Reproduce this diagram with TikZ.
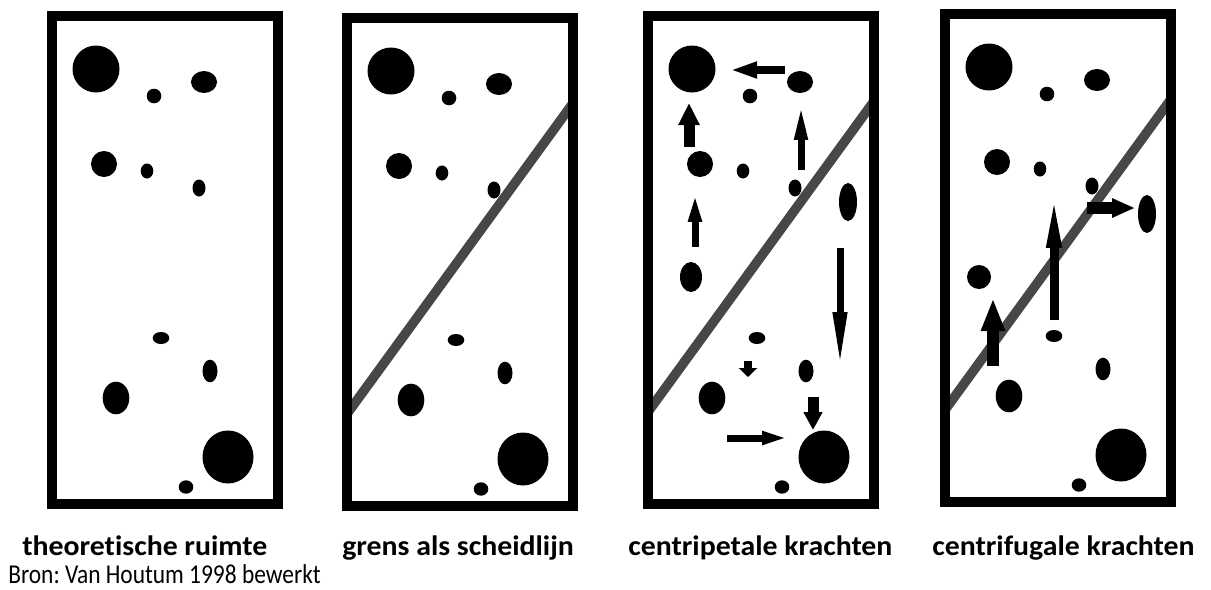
\documentclass[tikz,border=0pt]{standalone}
\usepackage{fontspec}
\setmainfont{Carlito}
\newfontfamily\labelfont[FakeStretch=1.06, Ligatures=NoCommon]{Carlito}
\newfontfamily\bronfont[FakeStretch=0.86, Ligatures=NoCommon]{Carlito}
\frenchspacing
\usetikzlibrary{arrows.meta}
\begin{document}
\begin{tikzpicture}[x=0.02cm, y=-0.02cm, >=latex,
  rand/.style={line width=0.2cm},
  grens/.style={line width=0.19cm, draw=black!72},
  pijl/.style n args={3}{line width=#1, -{Triangle[length=#2, width=#3]}},
  lbl/.style={font=\labelfont\fontsize{16}{18}\selectfont\bfseries, inner sep=0pt, anchor=base west}]
\useasboundingbox (0,0) rectangle (1211,589);
% scheidslijn in de laatste drie ruimtes
\foreach \bx/\by in {342/13, 643/11, 940/9}
  \draw[grens, shift={(\bx,\by)}] (5,400.9) -- (231,90.1);
% de kernen, in elke ruimte gelijk
\foreach \bx/\by in {47/11, 342/13, 643/11, 940/9} {
  \begin{scope}[shift={(\bx,\by)}]
  \fill (49,58) circle [x radius=23.5, y radius=23.5];
  \fill (107,85) circle [x radius=7.3, y radius=7.3];
  \fill (157,71) circle [x radius=13, y radius=11];
  \fill (57,153) circle [x radius=13, y radius=13];
  \fill (100,160) circle [x radius=6.3, y radius=7.5];
  \fill (152,177) circle [x radius=6.5, y radius=8.5];
  \fill (114,327) circle [x radius=8.3, y radius=6];
  \fill (163,360) circle [x radius=7.5, y radius=11.3];
  \fill (69,387) circle [x radius=13.3, y radius=16.3];
  \fill (181,446) circle [x radius=25.5, y radius=26.5];
  \fill (139,476) circle [x radius=7.3, y radius=6.7];
  \draw[rand] (5,5) rectangle (231,493);
  \end{scope}
}
% extra kernen
\fill (848,202) circle [x radius=9, y radius=19];
\fill (691,277) circle [x radius=11, y radius=15];
\fill (1147,214) circle [x radius=9, y radius=19];
\fill (979,277) circle [x radius=12, y radius=12];
% centripetale krachten
\draw[pijl={0.16cm}{0.54cm}{0.3cm}] (785,70) -- (730,70);
\draw[pijl={0.22cm}{0.44cm}{0.4cm}] (689,147) -- (689,103);
\draw[pijl={0.14cm}{0.74cm}{0.24cm}] (801,170) -- (801,103);
\draw[pijl={0.14cm}{0.6cm}{0.24cm}] (695,247) -- (695,192);
\draw[pijl={0.14cm}{1.12cm}{0.26cm}] (840,248) -- (840,368);
\draw[pijl={0.16cm}{0.18cm}{0.36cm}] (748,361) -- (748,377);
\draw[pijl={0.22cm}{0.36cm}{0.36cm}] (813,397) -- (813,430);
\draw[pijl={0.14cm}{0.54cm}{0.24cm}] (727,438) -- (789,438);
% centrifugale krachten
\draw[pijl={0.24cm}{0.66cm}{0.44cm}] (993,366) -- (993,298);
\draw[pijl={0.18cm}{1.26cm}{0.26cm}] (1054,320) -- (1054,185);
\draw[pijl={0.24cm}{0.46cm}{0.36cm}] (1087,208) -- (1135,208);
% onderschriften
\node[lbl] (theorie) at (22,555) {theoretische ruimte};
\node[lbl] (scheid) at (342,555) {grens als scheidlijn};
\node[lbl] (petaal) at (628,555) {centripetale krachten};
\node[lbl] (fugaal) at (932,555) {centrifugale krachten};
\node[font=\bronfont\fontsize{15.5}{17}\selectfont, inner sep=0pt, anchor=base west] (bron) at (8,583) {Bron: Van Houtum 1998 bewerkt};
\end{tikzpicture}
\end{document}
